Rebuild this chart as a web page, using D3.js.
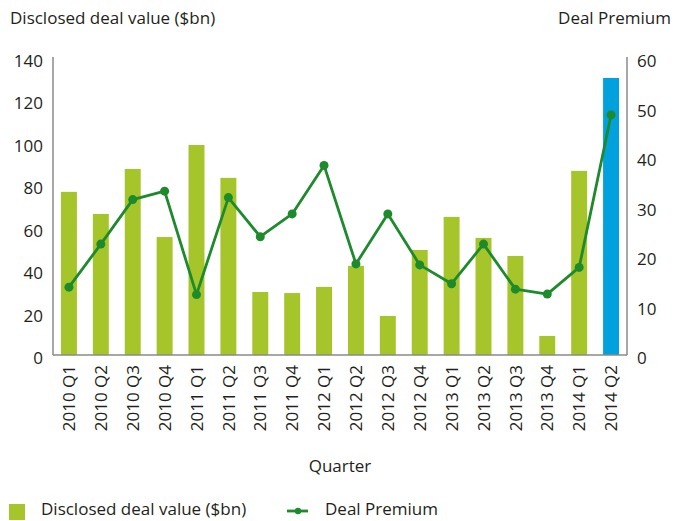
<!DOCTYPE html>
<html>
<head>
<meta charset="utf-8">
<script src="https://cdn.jsdelivr.net/npm/d3@7"></script>
<style>
  html, body { margin: 0; padding: 0; background: #fff; }
  svg { display: block; }
  text { font-family: "Open Sans", sans-serif; fill: #231f20; }
</style>
</head>
<body>
<svg id="chart" width="685" height="521"></svg>
<script>
const quarters = ["2010 Q1","2010 Q2","2010 Q3","2010 Q4","2011 Q1","2011 Q2","2011 Q3","2011 Q4",
  "2012 Q1","2012 Q2","2012 Q3","2012 Q4","2013 Q1","2013 Q2","2013 Q3","2013 Q4","2014 Q1","2014 Q2"];
const dealValue = [76.9, 66.5, 87.7, 55.6, 99.0, 83.5, 29.7, 29.2, 32.1, 42.0, 18.4, 49.5, 65.1, 55.2, 46.7, 9.0, 86.8, 130.6];
const dealPremium = [13.7, 22.4, 31.4, 33.1, 12.2, 31.8, 23.9, 28.5, 38.3, 18.4, 28.5, 18.2, 14.4, 22.4, 13.3, 12.3, 17.7, 48.5];
const leftTicks = [0, 20, 40, 60, 80, 100, 120, 140];
const rightTicks = [0, 10, 20, 30, 40, 50, 60];

const svg = d3.select("#chart");
const x0 = 53, x1 = 627, yTop = 58, yBot = 355;
const green = "#a5c52a", blue = "#00a1dd", lineColor = "#1d8a2c", axisColor = "#8a8a8a";

const x = d3.scaleBand().domain(quarters).range([x0, x1]).paddingInner(0.5).paddingOuter(0.25);
const yL = d3.scaleLinear().domain([0, 140]).range([yBot, yTop]);
const yR = d3.scaleLinear().domain([0, 60]).range([yBot, yTop]);

// bars
svg.append("g").selectAll("rect").data(quarters).join("rect")
  .attr("x", d => x(d))
  .attr("width", x.bandwidth())
  .attr("y", (d, i) => yL(dealValue[i]))
  .attr("height", (d, i) => yBot - yL(dealValue[i]))
  .attr("fill", (d, i) => i === quarters.length - 1 ? blue : green);

// axes
const leftAxis = d3.axisLeft(yL).tickValues(leftTicks).tickSize(0).tickPadding(10);
const gL = svg.append("g").attr("transform", `translate(${x0},0)`).call(leftAxis);
const rightAxis = d3.axisRight(yR).tickValues(rightTicks).tickSize(0).tickPadding(10);
const gR = svg.append("g").attr("transform", `translate(${x1},0)`).call(rightAxis);
[gL, gR].forEach(g => {
  g.select(".domain").attr("stroke", axisColor).attr("stroke-width", 1.5).attr("d", `M0,${yTop-1}V${yBot}`);
  g.selectAll("text").attr("font-size", 17).attr("font-family", "Open Sans, sans-serif").attr("fill", "#231f20").attr("dy", "0.5em");
});
// bottom axis
const bottomAxis = d3.axisBottom(x).tickSize(0).tickPadding(0);
const gB = svg.append("g").attr("transform", `translate(0,${yBot})`).call(bottomAxis);
gB.select(".domain").attr("stroke", axisColor).attr("stroke-width", 1.5).attr("d", `M${x0},0H${x1}`);
gB.selectAll("text")
  .attr("font-size", 17).attr("font-family", "Open Sans, sans-serif").attr("fill", "#231f20")
  .attr("transform", "rotate(-90)")
  .attr("text-anchor", "end")
  .attr("x", -10).attr("y", 0).attr("dy", "0.36em");

// line
const line = d3.line().x((d, i) => x(quarters[i]) + x.bandwidth() / 2).y(d => yR(d));
svg.append("path").datum(dealPremium)
  .attr("d", line).attr("fill", "none").attr("stroke", lineColor).attr("stroke-width", 2.8)
  .attr("stroke-linejoin", "round");
svg.append("g").selectAll("circle").data(dealPremium).join("circle")
  .attr("cx", (d, i) => x(quarters[i]) + x.bandwidth() / 2)
  .attr("cy", d => yR(d)).attr("r", 4.5).attr("fill", lineColor);

// titles
svg.append("text").attr("x", 10).attr("y", 24).attr("font-size", 17).text("Disclosed deal value ($bn)");
svg.append("text").attr("x", 671).attr("y", 24).attr("font-size", 17).attr("text-anchor", "end").text("Deal Premium");
svg.append("text").attr("x", (x0 + x1) / 2).attr("y", 472).attr("font-size", 17).attr("text-anchor", "middle").text("Quarter");

// legend
svg.append("rect").attr("x", 9).attr("y", 504).attr("width", 16).attr("height", 16).attr("fill", green);
svg.append("text").attr("x", 41).attr("y", 515).attr("font-size", 17).text("Disclosed deal value ($bn)");
svg.append("line").attr("x1", 287).attr("x2", 308).attr("y1", 511).attr("y2", 511).attr("stroke", lineColor).attr("stroke-width", 2.8);
svg.append("circle").attr("cx", 298).attr("cy", 511).attr("r", 3.2).attr("fill", lineColor);
svg.append("text").attr("x", 325).attr("y", 515).attr("font-size", 17).text("Deal Premium");
</script>
</body>
</html>
